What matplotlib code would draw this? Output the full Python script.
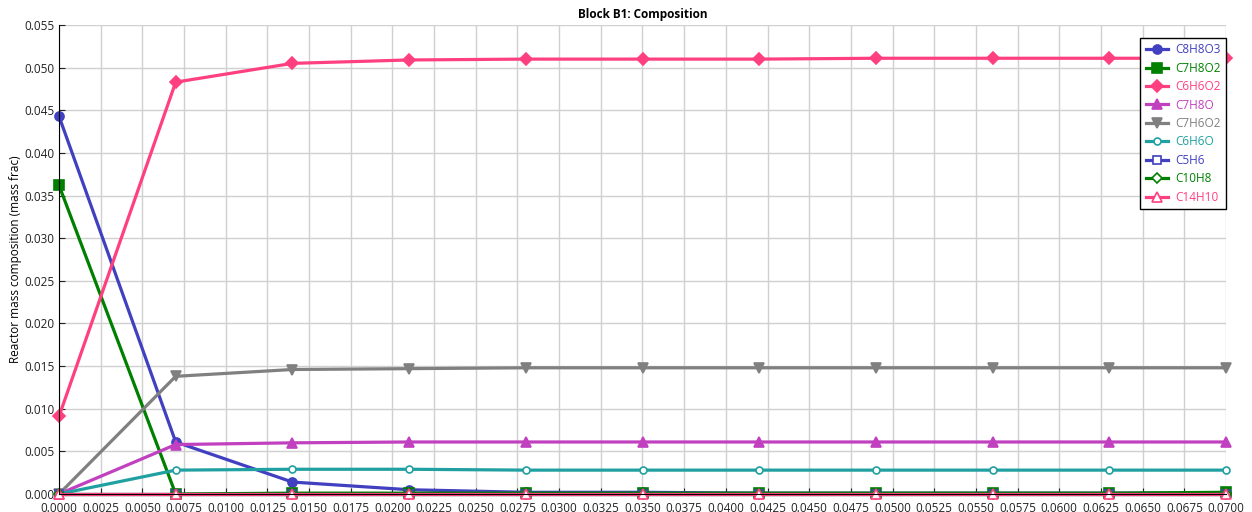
import numpy as np
import matplotlib.pyplot as plt
from matplotlib.ticker import MultipleLocator, FormatStrFormatter

plt.rcParams['font.family'] = ['Open Sans', 'DejaVu Sans']

# positions along the block
x = [0.0, 0.007, 0.014, 0.021, 0.028, 0.035, 0.042, 0.049, 0.056, 0.063, 0.070]

c8h8o3 = [0.0443, 0.0061, 0.0014, 0.0005, 0.0002, 0.0002, 0.0001, 0.0001, 0.0001, 0.0001, 0.0001]
c7h8o2 = [0.0362, 0.0, 0.0001, 0.0001, 0.0001, 0.0001, 0.0001, 0.0001, 0.0001, 0.0001, 0.0002]
c6h6o2 = [0.0091, 0.0483, 0.0505, 0.0509, 0.0510, 0.0510, 0.0510, 0.0511, 0.0511, 0.0511, 0.0511]
c7h8o = [0.0, 0.0058, 0.0060, 0.0061, 0.0061, 0.0061, 0.0061, 0.0061, 0.0061, 0.0061, 0.0061]
c7h6o2 = [0.0, 0.0138, 0.0146, 0.0147, 0.0148, 0.0148, 0.0148, 0.0148, 0.0148, 0.0148, 0.0148]
c6h6o = [0.0, 0.0028, 0.0029, 0.0029, 0.0028, 0.0028, 0.0028, 0.0028, 0.0028, 0.0028, 0.0028]
c5h6 = [0.0] * 11
c10h8 = [0.0] * 11
c14h10 = [0.0] * 11

names = ['C8H8O3', 'C7H8O2', 'C6H6O2', 'C7H8O', 'C7H6O2', 'C6H6O', 'C5H6', 'C10H8', 'C14H10']
series = [c8h8o3, c7h8o2, c6h6o2, c7h8o, c7h6o2, c6h6o, c5h6, c10h8, c14h10]
colors = ['#4040C0', '#008000', '#FF4080', '#C040C0', '#808080', '#20A0A0', '#4040C0', '#008000', '#FF4080']
markers = ['o', 's', 'D', '^', 'v', 'o', 's', 'D', '^']
filled = [True, True, True, True, True, False, False, False, False]
msizes = [6.5, 6.5, 6.5, 7.5, 7.5, 5, 5.5, 5.5, 6.5]

fig = plt.figure(figsize=(12.52, 5.12), dpi=100)
ax = fig.add_axes([59/1252, 18/512, (1226-59)/1252, (494-25)/512])

for name, y, c, m, f, ms in zip(names, series, colors, markers, filled, msizes):
  ax.plot(x, y, color=c, lw=2.3, marker=m, ms=ms,
          mfc=c if f else 'white', mec=c, mew=1.2, label=name, clip_on=False)

ax.set_xlim(0, 0.07)
ax.set_ylim(0, 0.055)
ax.xaxis.set_major_locator(MultipleLocator(0.0025))
ax.yaxis.set_major_locator(MultipleLocator(0.005))
ax.xaxis.set_major_formatter(FormatStrFormatter('%.4f'))
ax.yaxis.set_major_formatter(FormatStrFormatter('%.3f'))
ax.grid(True, color='#D0D0D0', lw=1)
ax.set_axisbelow(True)
ax.tick_params(direction='in', length=4, labelsize=8.5, colors='#222222')
ax.tick_params(axis='x', pad=6)
for s in ['top', 'right']:
  ax.spines[s].set_visible(False)
for s in ['left', 'bottom']:
  ax.spines[s].set_color('black')
ax.set_ylabel('Reactor mass composition (mass frac)', fontsize=8.5, labelpad=1)
ax.set_title('Block B1: Composition', fontsize=8.5, fontweight='bold', pad=5)

leg = ax.legend(loc='upper right', bbox_to_anchor=(1.0, 1 - 13/469), borderaxespad=0,
                fontsize=8.5, frameon=True, fancybox=False, edgecolor='black', framealpha=1,
                handlelength=1.9, handletextpad=0.6, labelspacing=0.46, borderpad=0.45)
leg.get_frame().set_linewidth(1)
for t, c in zip(leg.get_texts(), colors):
  t.set_color(c)

fig.savefig('out.png', dpi=100)
